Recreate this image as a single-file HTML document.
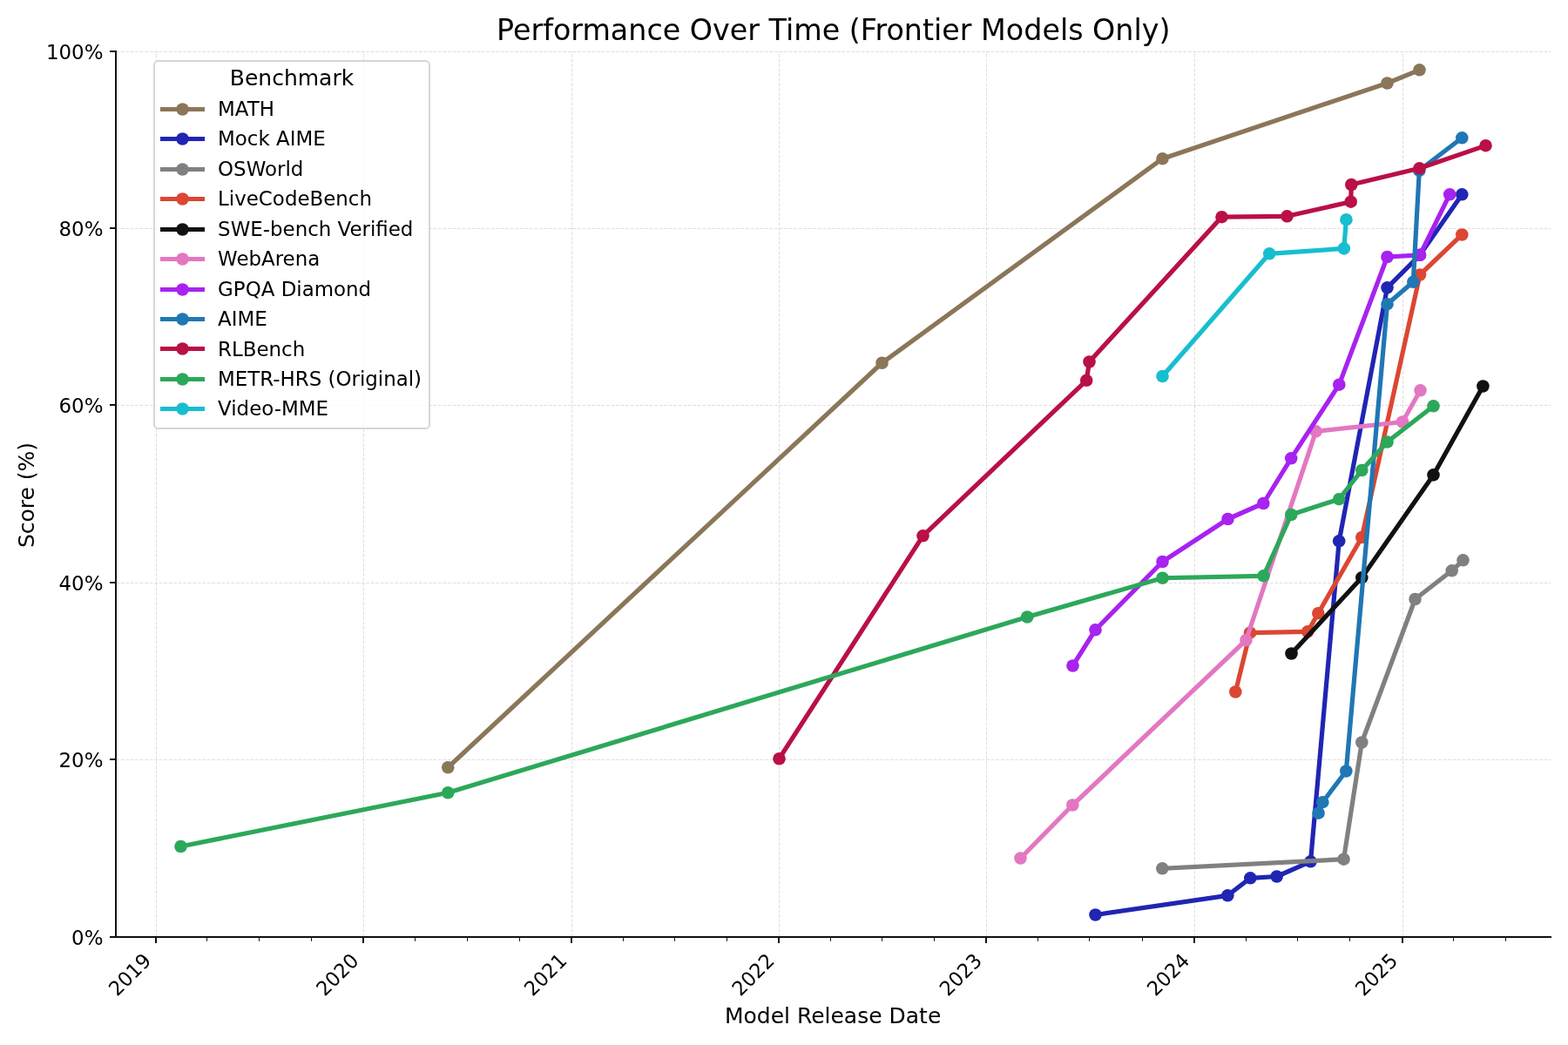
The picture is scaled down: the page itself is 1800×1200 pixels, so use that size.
<!DOCTYPE html>
<html lang="en"><head><meta charset="utf-8"><title>Performance Over Time (Frontier Models Only)</title>
<style>html,body{margin:0;padding:0;background:#fff}body{width:1800px;height:1200px;overflow:hidden}svg{display:block}text{font-family:"DejaVu Sans", "Liberation Sans", sans-serif;fill:#000}</style>
</head><body>
<svg width="1800" height="1200" viewBox="0 0 1800 1200">
<rect width="1800" height="1200" fill="#fff"/>
<g stroke="#b0b0b0" stroke-opacity="0.4" stroke-width="1" stroke-dasharray="3.85 1.67" fill="none">
<path d="M179.5 1076V59"/>
<path d="M417.5 1076V59"/>
<path d="M656.5 1076V59"/>
<path d="M894.5 1076V59"/>
<path d="M1132.5 1076V59"/>
<path d="M1371.5 1076V59"/>
<path d="M1610.5 1076V59"/>
<path d="M133 1076.5H1780.5"/>
<path d="M133 872.5H1780.5"/>
<path d="M133 669.5H1780.5"/>
<path d="M133 465.5H1780.5"/>
<path d="M133 262.5H1780.5"/>
<path d="M133 59.5H1780.5"/>
</g>
<g fill="#8b7659" stroke="none">
<path d="M514.25 881.25 L1012.50 416.75 L1334.50 182.20 L1592.50 95.50 L1629.50 80.30" fill="none" stroke="#8b7659" stroke-width="5.21" stroke-linejoin="round" stroke-linecap="square"/>
<circle cx="514.25" cy="881.25" r="7.29"/>
<circle cx="1012.50" cy="416.75" r="7.29"/>
<circle cx="1334.50" cy="182.20" r="7.29"/>
<circle cx="1592.50" cy="95.50" r="7.29"/>
<circle cx="1629.50" cy="80.30" r="7.29"/>
</g>
<g fill="#2025b4" stroke="none">
<path d="M1257.50 1050.50 L1409.30 1028.30 L1435.30 1008.30 L1465.70 1006.50 L1504.50 989.30 L1537.20 621.40 L1592.50 330.30 L1630.00 292.80 L1678.30 223.30" fill="none" stroke="#2025b4" stroke-width="5.21" stroke-linejoin="round" stroke-linecap="square"/>
<circle cx="1257.50" cy="1050.50" r="7.29"/>
<circle cx="1409.30" cy="1028.30" r="7.29"/>
<circle cx="1435.30" cy="1008.30" r="7.29"/>
<circle cx="1465.70" cy="1006.50" r="7.29"/>
<circle cx="1504.50" cy="989.30" r="7.29"/>
<circle cx="1537.20" cy="621.40" r="7.29"/>
<circle cx="1592.50" cy="330.30" r="7.29"/>
<circle cx="1630.00" cy="292.80" r="7.29"/>
<circle cx="1678.30" cy="223.30" r="7.29"/>
</g>
<g fill="#808080" stroke="none">
<path d="M1334.30 997.30 L1542.50 986.70 L1563.30 852.50 L1624.50 688.00 L1666.70 655.30 L1679.50 643.30" fill="none" stroke="#808080" stroke-width="5.21" stroke-linejoin="round" stroke-linecap="square"/>
<circle cx="1334.30" cy="997.30" r="7.29"/>
<circle cx="1542.50" cy="986.70" r="7.29"/>
<circle cx="1563.30" cy="852.50" r="7.29"/>
<circle cx="1624.50" cy="688.00" r="7.29"/>
<circle cx="1666.70" cy="655.30" r="7.29"/>
<circle cx="1679.50" cy="643.30" r="7.29"/>
</g>
<g fill="#dc4632" stroke="none">
<path d="M1418.30 794.50 L1435.00 726.70 L1501.20 725.30 L1513.30 704.20 L1563.30 617.00 L1630.00 315.50 L1678.30 269.50" fill="none" stroke="#dc4632" stroke-width="5.21" stroke-linejoin="round" stroke-linecap="square"/>
<circle cx="1418.30" cy="794.50" r="7.29"/>
<circle cx="1435.00" cy="726.70" r="7.29"/>
<circle cx="1501.20" cy="725.30" r="7.29"/>
<circle cx="1513.30" cy="704.20" r="7.29"/>
<circle cx="1563.30" cy="617.00" r="7.29"/>
<circle cx="1630.00" cy="315.50" r="7.29"/>
<circle cx="1678.30" cy="269.50" r="7.29"/>
</g>
<g fill="#111111" stroke="none">
<path d="M1482.50 750.50 L1563.30 663.30 L1645.50 545.40 L1702.40 443.50" fill="none" stroke="#111111" stroke-width="5.21" stroke-linejoin="round" stroke-linecap="square"/>
<circle cx="1482.50" cy="750.50" r="7.29"/>
<circle cx="1563.30" cy="663.30" r="7.29"/>
<circle cx="1645.50" cy="545.40" r="7.29"/>
<circle cx="1702.40" cy="443.50" r="7.29"/>
</g>
<g fill="#e377c2" stroke="none">
<path d="M1171.50 985.50 L1231.30 924.50 L1430.50 735.00 L1510.60 495.40 L1610.00 484.50 L1630.50 448.30" fill="none" stroke="#e377c2" stroke-width="5.21" stroke-linejoin="round" stroke-linecap="square"/>
<circle cx="1171.50" cy="985.50" r="7.29"/>
<circle cx="1231.30" cy="924.50" r="7.29"/>
<circle cx="1430.50" cy="735.00" r="7.29"/>
<circle cx="1510.60" cy="495.40" r="7.29"/>
<circle cx="1610.00" cy="484.50" r="7.29"/>
<circle cx="1630.50" cy="448.30" r="7.29"/>
</g>
<g fill="#a822f0" stroke="none">
<path d="M1231.50 764.50 L1257.50 723.25 L1334.50 645.00 L1409.50 596.00 L1450.30 578.00 L1482.20 526.30 L1537.30 441.70 L1592.50 295.00 L1630.00 292.80 L1664.20 223.30" fill="none" stroke="#a822f0" stroke-width="5.21" stroke-linejoin="round" stroke-linecap="square"/>
<circle cx="1231.50" cy="764.50" r="7.29"/>
<circle cx="1257.50" cy="723.25" r="7.29"/>
<circle cx="1334.50" cy="645.00" r="7.29"/>
<circle cx="1409.50" cy="596.00" r="7.29"/>
<circle cx="1450.30" cy="578.00" r="7.29"/>
<circle cx="1482.20" cy="526.30" r="7.29"/>
<circle cx="1537.30" cy="441.70" r="7.29"/>
<circle cx="1592.50" cy="295.00" r="7.29"/>
<circle cx="1630.00" cy="292.80" r="7.29"/>
<circle cx="1664.20" cy="223.30" r="7.29"/>
</g>
<g fill="#1f77b4" stroke="none">
<path d="M1513.50 933.70 L1518.30 921.20 L1545.30 885.50 L1592.50 349.20 L1622.30 323.80 L1629.30 195.80 L1678.30 158.30" fill="none" stroke="#1f77b4" stroke-width="5.21" stroke-linejoin="round" stroke-linecap="square"/>
<circle cx="1513.50" cy="933.70" r="7.29"/>
<circle cx="1518.30" cy="921.20" r="7.29"/>
<circle cx="1545.30" cy="885.50" r="7.29"/>
<circle cx="1592.50" cy="349.20" r="7.29"/>
<circle cx="1622.30" cy="323.80" r="7.29"/>
<circle cx="1629.30" cy="195.80" r="7.29"/>
<circle cx="1678.30" cy="158.30" r="7.29"/>
</g>
<g fill="#b91045" stroke="none">
<path d="M894.50 871.25 L1059.50 615.30 L1247.20 436.80 L1250.50 415.50 L1402.50 249.20 L1477.50 248.30 L1550.70 231.70 L1551.30 212.00 L1629.50 193.30 L1705.50 167.20" fill="none" stroke="#b91045" stroke-width="5.21" stroke-linejoin="round" stroke-linecap="square"/>
<circle cx="894.50" cy="871.25" r="7.29"/>
<circle cx="1059.50" cy="615.30" r="7.29"/>
<circle cx="1247.20" cy="436.80" r="7.29"/>
<circle cx="1250.50" cy="415.50" r="7.29"/>
<circle cx="1402.50" cy="249.20" r="7.29"/>
<circle cx="1477.50" cy="248.30" r="7.29"/>
<circle cx="1550.70" cy="231.70" r="7.29"/>
<circle cx="1551.30" cy="212.00" r="7.29"/>
<circle cx="1629.50" cy="193.30" r="7.29"/>
<circle cx="1705.50" cy="167.20" r="7.29"/>
</g>
<g fill="#2ca85a" stroke="none">
<path d="M207.50 972.00 L514.25 910.25 L1179.25 708.50 L1334.50 663.75 L1450.50 661.30 L1482.20 591.00 L1537.20 573.20 L1563.30 540.00 L1592.50 507.50 L1645.50 466.30" fill="none" stroke="#2ca85a" stroke-width="5.21" stroke-linejoin="round" stroke-linecap="square"/>
<circle cx="207.50" cy="972.00" r="7.29"/>
<circle cx="514.25" cy="910.25" r="7.29"/>
<circle cx="1179.25" cy="708.50" r="7.29"/>
<circle cx="1334.50" cy="663.75" r="7.29"/>
<circle cx="1450.50" cy="661.30" r="7.29"/>
<circle cx="1482.20" cy="591.00" r="7.29"/>
<circle cx="1537.20" cy="573.20" r="7.29"/>
<circle cx="1563.30" cy="540.00" r="7.29"/>
<circle cx="1592.50" cy="507.50" r="7.29"/>
<circle cx="1645.50" cy="466.30" r="7.29"/>
</g>
<g fill="#17becf" stroke="none">
<path d="M1334.50 432.00 L1457.20 291.30 L1542.80 285.40 L1545.40 252.20" fill="none" stroke="#17becf" stroke-width="5.21" stroke-linejoin="round" stroke-linecap="square"/>
<circle cx="1334.50" cy="432.00" r="7.29"/>
<circle cx="1457.20" cy="291.30" r="7.29"/>
<circle cx="1542.80" cy="285.40" r="7.29"/>
<circle cx="1545.40" cy="252.20" r="7.29"/>
</g>
<g fill="#111">
<rect x="132" y="58" width="2" height="1019"/>
<rect x="132" y="1075" width="1649" height="2"/>
<rect x="178" y="1076" width="2" height="7"/>
<rect x="416" y="1076" width="2" height="7"/>
<rect x="655" y="1076" width="2" height="7"/>
<rect x="893" y="1076" width="2" height="7"/>
<rect x="1131" y="1076" width="2" height="7"/>
<rect x="1370" y="1076" width="2" height="7"/>
<rect x="1609" y="1076" width="2" height="7"/>
<rect x="126" y="1075" width="7" height="2"/>
<rect x="126" y="871" width="7" height="2"/>
<rect x="126" y="668" width="7" height="2"/>
<rect x="126" y="464" width="7" height="2"/>
<rect x="126" y="261" width="7" height="2"/>
<rect x="126" y="58" width="7" height="2"/>
<rect x="237" y="1076" width="1" height="4.8"/>
<rect x="297" y="1076" width="1" height="4.8"/>
<rect x="357" y="1076" width="1" height="4.8"/>
<rect x="476" y="1076" width="1" height="4.8"/>
<rect x="536" y="1076" width="1" height="4.8"/>
<rect x="596" y="1076" width="1" height="4.8"/>
<rect x="715" y="1076" width="1" height="4.8"/>
<rect x="774" y="1076" width="1" height="4.8"/>
<rect x="834" y="1076" width="1" height="4.8"/>
<rect x="953" y="1076" width="1" height="4.8"/>
<rect x="1012" y="1076" width="1" height="4.8"/>
<rect x="1072" y="1076" width="1" height="4.8"/>
<rect x="1191" y="1076" width="1" height="4.8"/>
<rect x="1250" y="1076" width="1" height="4.8"/>
<rect x="1311" y="1076" width="1" height="4.8"/>
<rect x="1430" y="1076" width="1" height="4.8"/>
<rect x="1489" y="1076" width="1" height="4.8"/>
<rect x="1549" y="1076" width="1" height="4.8"/>
<rect x="1668" y="1076" width="1" height="4.8"/>
<rect x="1728" y="1076" width="1" height="4.8"/>
</g>
<g font-size="22.92">
<text transform="translate(134.38 1145.1) rotate(-45)" textLength="57.2" lengthAdjust="spacingAndGlyphs">2019</text>
<text transform="translate(372.66 1145.1) rotate(-45)" textLength="57.2" lengthAdjust="spacingAndGlyphs">2020</text>
<text transform="translate(611.60 1145.1) rotate(-45)" textLength="57.2" lengthAdjust="spacingAndGlyphs">2021</text>
<text transform="translate(849.88 1145.1) rotate(-45)" textLength="57.2" lengthAdjust="spacingAndGlyphs">2022</text>
<text transform="translate(1088.16 1145.1) rotate(-45)" textLength="57.2" lengthAdjust="spacingAndGlyphs">2023</text>
<text transform="translate(1326.45 1145.1) rotate(-45)" textLength="57.2" lengthAdjust="spacingAndGlyphs">2024</text>
<text transform="translate(1565.38 1145.1) rotate(-45)" textLength="57.2" lengthAdjust="spacingAndGlyphs">2025</text>
<text x="118.42" y="1084.51" text-anchor="end">0%</text>
<text x="118.42" y="881.15" text-anchor="end">20%</text>
<text x="118.42" y="677.79" text-anchor="end">40%</text>
<text x="118.42" y="474.43" text-anchor="end">60%</text>
<text x="118.42" y="271.07" text-anchor="end">80%</text>
<text x="118.42" y="67.71" text-anchor="end">100%</text>
</g>
<text x="956.1" y="1174.64" font-size="25" text-anchor="middle">Model Release Date</text>
<text transform="translate(39.37 568.5) rotate(-90)" font-size="25" text-anchor="middle">Score (%)</text>
<text x="956.75" y="45.8" font-size="33.33" text-anchor="middle">Performance Over Time (Frontier Models Only)</text>
<rect x="177" y="70" width="316" height="422" rx="4.58" ry="4.58" fill="#fff" fill-opacity="0.8" stroke="#ccc" stroke-opacity="0.8" stroke-width="2"/>
<text x="335" y="97.6" font-size="25" text-anchor="middle">Benchmark</text>
<g font-size="22.92">
<rect x="184" y="123.0" width="51" height="5" fill="#8b7659"/>
<circle cx="209.5" cy="125.50" r="7.29" fill="#8b7659"/>
<text x="250.1" y="132.90">MATH</text>
<rect x="184" y="157.0" width="51" height="5" fill="#2025b4"/>
<circle cx="209.5" cy="159.50" r="7.29" fill="#2025b4"/>
<text x="250.1" y="167.35">Mock AIME</text>
<rect x="184" y="192.0" width="51" height="5" fill="#808080"/>
<circle cx="209.5" cy="194.50" r="7.29" fill="#808080"/>
<text x="250.1" y="201.80">OSWorld</text>
<rect x="184" y="226.0" width="51" height="5" fill="#dc4632"/>
<circle cx="209.5" cy="228.50" r="7.29" fill="#dc4632"/>
<text x="250.1" y="236.25">LiveCodeBench</text>
<rect x="184" y="261.0" width="51" height="5" fill="#111111"/>
<circle cx="209.5" cy="263.50" r="7.29" fill="#111111"/>
<text x="250.1" y="270.70">SWE-bench Verified</text>
<rect x="184" y="295.0" width="51" height="5" fill="#e377c2"/>
<circle cx="209.5" cy="297.50" r="7.29" fill="#e377c2"/>
<text x="250.1" y="305.15">WebArena</text>
<rect x="184" y="330.0" width="51" height="5" fill="#a822f0"/>
<circle cx="209.5" cy="332.50" r="7.29" fill="#a822f0"/>
<text x="250.1" y="339.60">GPQA Diamond</text>
<rect x="184" y="364.0" width="51" height="5" fill="#1f77b4"/>
<circle cx="209.5" cy="366.50" r="7.29" fill="#1f77b4"/>
<text x="250.1" y="374.05">AIME</text>
<rect x="184" y="398.0" width="51" height="5" fill="#b91045"/>
<circle cx="209.5" cy="400.50" r="7.29" fill="#b91045"/>
<text x="250.1" y="408.50">RLBench</text>
<rect x="184" y="433.0" width="51" height="5" fill="#2ca85a"/>
<circle cx="209.5" cy="435.50" r="7.29" fill="#2ca85a"/>
<text x="250.1" y="442.95">METR-HRS (Original)</text>
<rect x="184" y="467.0" width="51" height="5" fill="#17becf"/>
<circle cx="209.5" cy="469.50" r="7.29" fill="#17becf"/>
<text x="250.1" y="477.40">Video-MME</text>
</g>
</svg>
</body></html>
